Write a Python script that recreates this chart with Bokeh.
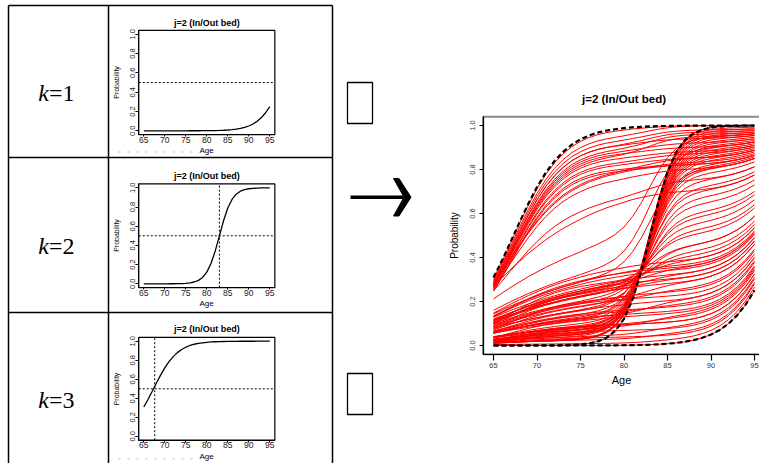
import numpy as np
from bokeh.plotting import figure
from bokeh.models import Range1d, LinearAxis, FixedTicker, PrintfTickFormatter
from bokeh.core.properties import value
from bokeh.embed import file_html
from bokeh.resources import INLINE

# ------------------------------------------------------------------ data
ages = list(range(65, 96))
p_k1 = [0.0000, 0.0000, 0.0000, 0.0000, 0.0000, 0.0000, 0.0000, 0.0001, 0.0001, 0.0001,
        0.0002, 0.0003, 0.0004, 0.0006, 0.0009, 0.0013, 0.0019, 0.0027, 0.0039, 0.0056,
        0.0082, 0.0118, 0.0169, 0.0244, 0.0349, 0.0498, 0.0704, 0.0989, 0.137, 0.187, 0.250]
p_k2 = [0.0000, 0.0000, 0.0000, 0.0001, 0.0001, 0.0002, 0.0004, 0.0007, 0.0014, 0.0026,
        0.0051, 0.0098, 0.0187, 0.0356, 0.0666, 0.1213, 0.2108, 0.3407, 0.5000, 0.6593,
        0.7892, 0.8787, 0.9334, 0.9644, 0.9813, 0.9902, 0.9949, 0.9974, 0.9986, 0.9993, 0.9996]
p_k3 = [0.309, 0.388, 0.474, 0.561, 0.644, 0.720, 0.785, 0.838, 0.880, 0.913,
        0.937, 0.955, 0.968, 0.977, 0.983, 0.988, 0.992, 0.994, 0.996, 0.997,
        0.998, 0.9986, 0.9990, 0.9993, 0.9995, 0.9996, 0.9997, 0.9998, 0.9999, 0.9999, 0.9999]
# slow-rising shape seen in the lower-left red curves
p_slow = [0.40, 0.45, 0.50, 0.545, 0.59, 0.63, 0.67, 0.705, 0.74, 0.77,
          0.80, 0.83, 0.855, 0.88, 0.90, 0.92, 0.94, 0.955, 0.967, 0.977,
          0.985, 0.99, 0.993, 0.995, 0.997, 0.998, 0.999, 1.0, 1.0, 1.0, 1.0]

# weights of each red (individual) curve on the shapes above
w_k1 = [0.00, 0.00, 0.02, 0.03, 0.06, 0.04, 0.08, 0.10, 0.05, 0.12, 0.13, 0.15, 0.18, 0.17,
        0.30, 0.05, 0.10, 0.25, 0.20, 0.55, 0.20,
        0.00, 0.00, 0.02, 0.03, 0.05, 0.06, 0.08, 0.10, 0.12, 0.14,
        0.15, 0.18, 0.20, 0.22, 0.25, 0.28, 0.30, 0.33, 0.36, 0.40,
        0.42, 0.45, 0.48, 0.50, 0.55, 0.58, 0.60, 0.62, 0.65, 0.68,
        0.70, 0.72, 0.75, 0.78, 0.80, 0.82, 0.85, 0.87, 0.88, 0.90,
        0.92, 0.93, 0.95, 0.96, 0.98, 1.00,
        0.01, 0.04, 0.07, 0.09, 0.11, 0.13, 0.16, 0.19,
        0.62, 0.64, 0.70, 0.72, 0.76, 0.80, 0.83, 0.86, 0.90, 0.65, 0.68, 0.66,
        0.18, 0.15]
w_k2 = [0.01, 0.04, 0.04, 0.05, 0.02, 0.06, 0.03, 0.02, 0.08, 0.02, 0.03, 0.02, 0.01, 0.03,
        0.00, 0.42, 0.50, 0.05, 0.02, 0.15, 0.45,
        1.00, 0.97, 0.95, 0.92, 0.90, 0.88, 0.85, 0.84, 0.80, 0.78,
        0.75, 0.72, 0.70, 0.66, 0.60, 0.57, 0.52, 0.50, 0.44, 0.40,
        0.35, 0.30, 0.27, 0.22, 0.18, 0.15, 0.10, 0.08, 0.05, 0.04,
        0.02, 0.06, 0.03, 0.00, 0.05, 0.02, 0.00, 0.04, 0.02, 0.00,
        0.03, 0.00, 0.02, 0.00, 0.01, 0.00,
        0.96, 0.93, 0.90, 0.86, 0.82, 0.80, 0.76, 0.70,
        0.00, 0.00, 0.00, 0.00, 0.00, 0.00, 0.00, 0.00, 0.00, 0.00, 0.00, 0.00,
        0.00, 0.03]
w_k3 = [0.99, 0.96, 0.94, 0.92, 0.92, 0.90, 0.89, 0.88, 0.87, 0.86, 0.84, 0.83, 0.81, 0.80,
        0.10, 0.00, 0.00, 0.35, 0.55, 0.05, 0.05,
        0.00, 0.03, 0.00, 0.05, 0.00, 0.03, 0.07, 0.00, 0.04, 0.08,
        0.00, 0.05, 0.00, 0.12, 0.05, 0.00, 0.08, 0.02, 0.00, 0.10,
        0.03, 0.00, 0.15, 0.08, 0.02, 0.12, 0.00, 0.20, 0.05, 0.10,
        0.00, 0.15, 0.02, 0.10, 0.00, 0.06, 0.03, 0.00, 0.05, 0.02,
        0.00, 0.04, 0.00, 0.01, 0.00, 0.00,
        0.00, 0.03, 0.00, 0.05, 0.00, 0.02, 0.03, 0.06,
        0.05, 0.00, 0.05, 0.00, 0.02, 0.00, 0.05, 0.00, 0.03, 0.10, 0.00, 0.04,
        0.50, 0.55]
w_slow = [0.00, 0.00, 0.00, 0.00, 0.00, 0.00, 0.00, 0.00, 0.00, 0.00, 0.00, 0.00, 0.00, 0.00,
          0.60, 0.53, 0.40, 0.35, 0.23, 0.25, 0.30,
          0.00, 0.00, 0.03, 0.00, 0.05, 0.03, 0.00, 0.06, 0.04, 0.00,
          0.10, 0.05, 0.10, 0.00, 0.10, 0.15, 0.10, 0.15, 0.20, 0.10,
          0.20, 0.25, 0.10, 0.20, 0.25, 0.15, 0.30, 0.10, 0.25, 0.18,
          0.28, 0.07, 0.20, 0.12, 0.15, 0.10, 0.12, 0.09, 0.05, 0.08,
          0.05, 0.03, 0.03, 0.03, 0.01, 0.00,
          0.03, 0.00, 0.03, 0.00, 0.07, 0.05, 0.05, 0.05,
          0.33, 0.36, 0.25, 0.28, 0.22, 0.20, 0.12, 0.14, 0.07, 0.25, 0.32, 0.30,
          0.32, 0.27]

vline_k2 = 83.0
vline_k3 = 67.6
hline = 0.5
x_ticks = [65, 70, 75, 80, 85, 90, 95]
y_ticks = [0.0, 0.2, 0.4, 0.6, 0.8, 1.0]
row_numbers = ["1", "2", "3"]
panel_title = "j=2 (In/Out bed)"
x_label = "Age"
y_label = "Probability"

# ------------------------------------------------------------------ page
W, H = 759, 463
RX0, RX1 = 0.0, 759.0
RY0, RY1 = 0.0, 463.0
SANS = "Liberation Sans"
SERIF = "Liberation Serif"

p = figure(width=W, height=H, x_range=Range1d(RX0, RX1), y_range=Range1d(RY1, RY0),
           min_border=0, toolbar_location=None, output_backend="svg",
           x_axis_location=None, y_axis_location=None, outline_line_color=None,
           background_fill_color="white", border_fill_color="white")
p.xgrid.visible = False
p.ygrid.visible = False


def span(ref_a, val_a, ref_b, val_b, lo, hi):
    k = (val_b - val_a) / (ref_b - ref_a)
    return Range1d(start=val_a + (lo - ref_a) * k, end=val_a + (hi - ref_a) * k)


p.extra_x_ranges = {
    "sx": span(143.3, 65, 269.3, 95, RX0, RX1),
    "bx": span(493.0, 65, 754.0, 95, RX0, RX1),
}
p.extra_y_ranges = {
    "s1": span(130.3, 0, 33.8, 1, RY1, RY0),
    "s2": span(283.3, 0, 187.3, 1, RY1, RY0),
    "s3": span(435.9, 0, 340.7, 1, RY1, RY0),
    "by": span(345.0, 0, 125.0, 1, RY1, RY0),
}
FX = (63.8, 96.2)
FY = (-0.04, 1.04)


def add_axes(xn, yn, xtick_fs, ytick_fs, xlab_fs, ylab_fs, xt_out, xt_std, xl_std,
             yt_out, yt_std, yl_std, lw, tick_color):
    common = dict(x_range_name=xn, y_range_name=yn, axis_line_color="black",
                  axis_line_width=lw, major_tick_line_color="black",
                  major_tick_line_width=lw, major_tick_in=0,
                  minor_tick_line_color=None,
                  major_label_text_font=SANS, major_label_text_color=tick_color,
                  axis_label_text_font=SANS, axis_label_text_font_style="normal",
                  axis_label_text_color="black")
    xa = LinearAxis(fixed_location=FY[0], bounds=FX,
                    ticker=FixedTicker(ticks=x_ticks, minor_ticks=[]),
                    formatter=PrintfTickFormatter(format="%d"), axis_label=x_label,
                    major_label_text_font_size=f"{xtick_fs}px",
                    axis_label_text_font_size=f"{xlab_fs}px",
                    major_tick_out=xt_out, major_label_standoff=xt_std,
                    axis_label_standoff=xl_std, **common)
    p.add_layout(xa, "below")
    ya = LinearAxis(fixed_location=FX[0], bounds=FY,
                    ticker=FixedTicker(ticks=y_ticks, minor_ticks=[]),
                    formatter=PrintfTickFormatter(format="%.1f"), axis_label=y_label,
                    major_label_text_font_size=f"{ytick_fs}px",
                    axis_label_text_font_size=f"{ylab_fs}px",
                    major_label_orientation="vertical",
                    major_tick_out=yt_out, major_label_standoff=yt_std,
                    axis_label_standoff=yl_std, **common)
    p.add_layout(ya, "left")


# ---------------- table
p.segment(x0=[8, 108, 332, 8, 8, 8], y0=[5, 5, 5, 5, 157, 312],
          x1=[8, 108, 332, 332, 332, 332], y1=[463, 463, 463, 5, 157, 312],
          line_color="black", line_width=1.5)
k_base = [92.0, 245.0, 399.5]
p.text(x=[48.5] * 3, y=k_base, text=["k"] * 3, text_font=value(SERIF),
       text_font_style="italic", text_font_size="24px", text_align="right",
       text_baseline="alphabetic", text_color="black")
p.text(x=[48.5] * 3, y=k_base, text=["=" + r for r in row_numbers], text_font=value(SERIF),
       text_font_size="24px", text_align="left", text_baseline="alphabetic",
       text_color="black")
# faint red remnants under the small panels
p.segment(x0=[118, 118], y0=[151.5, 458.3], x1=[197, 197], y1=[151.5, 458.3],
          line_color="#ff6a6a", line_alpha=0.45, line_width=1.5, line_dash="2 7")

# ---------------- small panels
small = [("s1", p_k1, None, 22.7), ("s2", p_k2, vline_k2, 175.0), ("s3", p_k3, vline_k3, 328.7)]
for yn, curve, vline, ty in small:
    p.quad(left=[FX[0]], right=[FX[1]], bottom=[FY[0]], top=[FY[1]], fill_color=None,
           line_color="black", line_width=1.2, x_range_name="sx", y_range_name=yn)
    p.segment(x0=[FX[0]], x1=[FX[1]], y0=[hline], y1=[hline], line_color="black",
              line_width=1, line_dash="2 2", x_range_name="sx", y_range_name=yn)
    if vline is not None:
        p.segment(x0=[vline], x1=[vline], y0=[FY[0]], y1=[FY[1]], line_color="black",
                  line_width=1, line_dash="2 2", x_range_name="sx", y_range_name=yn)
    p.line(ages, curve, line_color="black", line_width=1.3,
           x_range_name="sx", y_range_name=yn)
    p.text(x=[206.3], y=[ty], text=[panel_title], text_font=value(SANS),
           text_font_style="bold", text_font_size="9px", text_align="center",
           text_baseline="middle", text_color="black")
    add_axes("sx", yn, 8.5, 7.5, 8, 7, 2, 0, 0, 3, 1, 7, 1.0, "#222222")

# ---------------- arrow and placeholder boxes
p.quad(left=[347, 347], right=[372, 372], top=[82, 373], bottom=[123, 414],
       fill_color=None, line_color="black", line_width=1.3)
p.segment(x0=[350], y0=[196.7], x1=[403], y1=[196.7], line_color="black", line_width=3.5)
p.patch(x=[393, 398.5, 410.5, 398.5, 393, 403.5], y=[178, 178, 196.7, 215.5, 215.5, 196.7],
        fill_color="black", line_color="black", line_width=1)

# ---------------- big panel
n = min(len(w_k1), len(w_k2), len(w_k3), len(w_slow))
shapes = np.array([p_k1, p_k2, p_k3, p_slow])
weights = np.array([w_k1[:n], w_k2[:n], w_k3[:n], w_slow[:n]]).T
red_curves = weights @ shapes
p.quad(left=[FX[0]], right=[FX[1]], bottom=[FY[0]], top=[FY[1]], fill_color=None,
       line_color="#8a8a8a", line_width=2, x_range_name="bx", y_range_name="by")
p.multi_line(xs=[ages] * n, ys=[list(c) for c in red_curves], line_color="red",
             line_width=1, x_range_name="bx", y_range_name="by")
p.multi_line(xs=[ages] * 3, ys=[p_k1, p_k2, p_k3], line_color="black", line_width=2.2,
             line_dash="5 3", x_range_name="bx", y_range_name="by")
p.text(x=[623.5], y=[98.0], text=[panel_title], text_font=value(SANS),
       text_font_style="bold", text_font_size="11.5px", text_align="center",
       text_baseline="middle", text_color="black")
add_axes("bx", "by", 7.5, 7.5, 11, 10, 6, 3, 2, 4, 4, 8, 1.2, "#333333")

open("out.html", "w").write(file_html(p, INLINE))
